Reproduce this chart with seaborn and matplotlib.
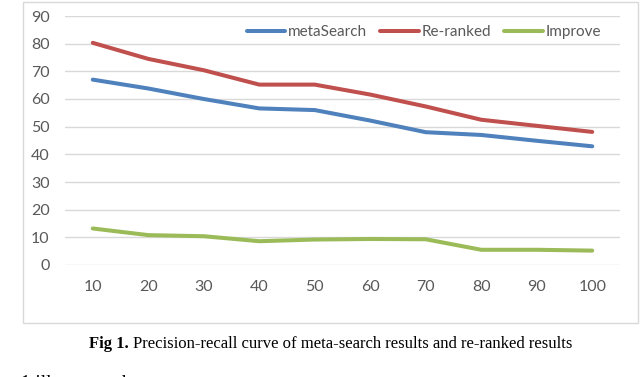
import matplotlib
matplotlib.use("Agg")
import matplotlib.pyplot as plt
import seaborn as sns
import pandas as pd
from matplotlib.patches import Rectangle
from matplotlib.lines import Line2D

categories = ["10", "20", "30", "40", "50", "60", "70", "80", "90", "100"]
meta_search = [67.0, 63.8, 60.0, 56.6, 56.0, 52.2, 48.0, 47.0, 44.9, 42.9]
re_ranked = [80.3, 74.5, 70.4, 65.2, 65.2, 61.6, 57.3, 52.5, 50.3, 48.1]
improve = [13.2, 10.8, 10.4, 8.6, 9.2, 9.4, 9.3, 5.5, 5.5, 5.2]
series_names = ["metaSearch", "Re-ranked", "Improve"]
colors = ["#4F81BD", "#C0504D", "#9BBB59"]
y_ticks = [0, 10, 20, 30, 40, 50, 60, 70, 80, 90]

rows = []
for name, vals in zip(series_names, [meta_search, re_ranked, improve]):
    for i, (c, v) in enumerate(zip(categories, vals)):
        rows.append({"pos": i, "cat": c, "value": v, "series": name})
df = pd.DataFrame(rows)

sns.set_theme(style="white")
plt.rcParams["font.family"] = ["Lato", "DejaVu Sans"]

W, H = 640, 377
fig = plt.figure(figsize=(W / 100, H / 100), dpi=100)

# chart border
fig.patches.append(Rectangle((23 / W, 1 - 323 / H), (638 - 23) / W, (323 - 2) / H,
                             transform=fig.transFigure, fill=False,
                             edgecolor="#D9D9D9", linewidth=1.0, zorder=0))

ax = fig.add_axes([65 / W, 1 - 265 / H, (620 - 65) / W, (265 - 16) / H])
ax.set_facecolor("none")

sns.lineplot(data=df, x="pos", y="value", hue="series", hue_order=series_names,
             palette=colors, linewidth=2.9, ax=ax, legend=False, sort=False,
             solid_capstyle="round", clip_on=False)

ax.set_xlim(-0.5, len(categories) - 0.5)
ax.set_ylim(0, 90)
ax.set_yticks(y_ticks)
ax.set_yticklabels([str(t) for t in y_ticks])
ax.set_xticks(range(len(categories)))
ax.set_xticklabels(categories)
ax.yaxis.grid(True, color="#D9D9D9", linewidth=1.0)
ax.set_axisbelow(True)
for s in ax.spines.values():
    s.set_visible(False)
ax.tick_params(axis="both", length=0, labelsize=11.5, colors="#595959")
ax.tick_params(axis="y", pad=11)
ax.tick_params(axis="x", pad=11)
ax.set_xlabel("")
ax.set_ylabel("")

handles = [Line2D([0], [0], color=c, linewidth=2.9, solid_capstyle="round") for c in colors]
leg = ax.legend(handles, series_names, loc="center", bbox_to_anchor=(0.647, 0.936),
                ncol=3, frameon=False, fontsize=11, handlelength=2.5,
                handletextpad=0.2, columnspacing=0.85)
for t in leg.get_texts():
    t.set_color("#595959")

# caption
cap_y = 1 - 344 / H
t1 = fig.text(89 / W, cap_y, "Fig 1.", fontsize=12, fontweight="bold",
              family="Liberation Serif", color="black", va="center", ha="left")
fig.canvas.draw()
bb = t1.get_window_extent()
fig.text((bb.x1 + 4) / W, cap_y, "Precision-recall curve of meta-search results and re-ranked results",
         fontsize=12, family="Liberation Serif", color="black", va="center", ha="left")
fig.text(-15 / W, 1 - 383 / H, "Fig. 1 illustrates that:", fontsize=14,
         family="Liberation Serif", color="black", va="center", ha="left")

fig.savefig("out.png", dpi=100)
